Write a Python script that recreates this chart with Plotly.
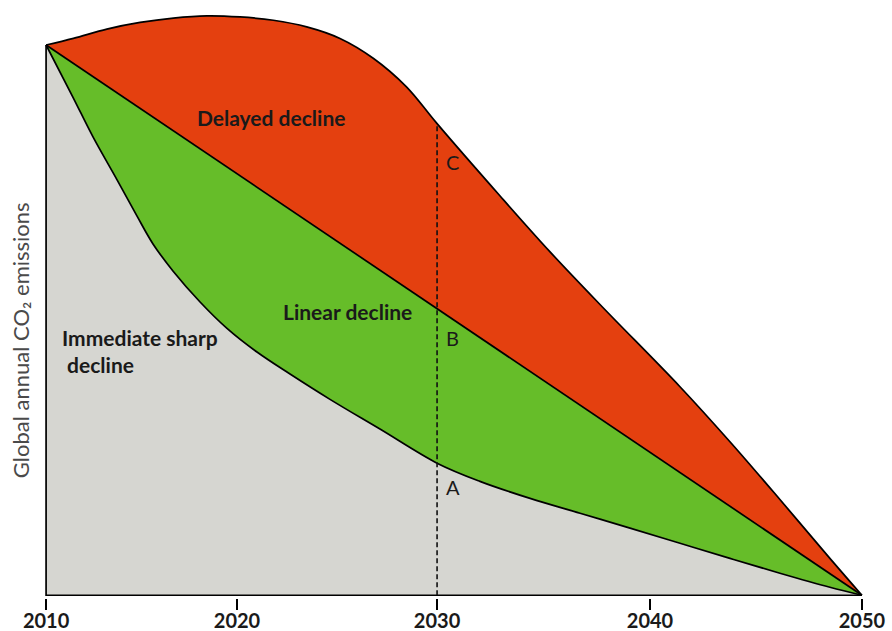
import plotly.graph_objects as go

# ---- data (illustrative emission pathways, index: 2010 level = 100) ----
delayed_years = [2010, 2011.34, 2012.98, 2014.61, 2016.24, 2017.88, 2019.51, 2021.14, 2022.78,
                 2024.41, 2026.04, 2027.67, 2029.15, 2032.25, 2034.71, 2037.3,
                 2041.08, 2043.53, 2045.98, 2048.43, 2050]
delayed_vals = [100, 101.2, 102.9, 104.1, 104.9, 105.3, 105.1, 104.5, 103.3,
                101.2, 97.6, 92.4, 85.8, 72.6, 62.4, 52.3,
                37.9, 27.9, 17.4, 6.7, 0]

linear_years = [2010, 2050]
linear_vals = [100, 0]

sharp_years = [2010, 2011.32, 2012.30, 2013.48, 2014.46, 2015.25, 2016.23, 2017.55, 2018.87,
               2020.34, 2021.96, 2023.92, 2026.37, 2029.17, 2031.27, 2033.73, 2036.18, 2038.63,
               2041.08, 2043.53, 2045.98, 2048.43, 2050]
sharp_vals = [100, 90.5, 83.3, 75.5, 68.9, 63.8, 58.9, 53.3, 48.5,
              44.2, 40.2, 35.6, 30.2, 24.0, 20.7, 17.6, 14.9, 12.2,
              9.45, 6.7, 4.0, 1.45, 0]

marker_year = 2029.17          # dashed reference line ("2030" in the drawing)
marker_top = 85.7
tick_positions = [2010, 2019.36, 2029.17, 2039.61, 2050]
tick_labels = ["2010", "2020", "2030", "2040", "2050"]

RED = "#E4400F"
GREEN = "#66BD29"
GRAY = "#D6D6D1"
EDGE = dict(color="black", width=1.7)

fig = go.Figure()

# gray region: below the sharp-decline curve
fig.add_trace(go.Scatter(
    x=sharp_years, y=sharp_vals, fill="tozeroy", fillcolor=GRAY, mode="lines",
    line=dict(EDGE, shape="spline", smoothing=1.0), hoverinfo="skip", showlegend=False))

# green region: between sharp curve and linear line
fig.add_trace(go.Scatter(
    x=linear_years, y=linear_vals, fill="tonexty", fillcolor=GREEN, mode="lines",
    line=EDGE, hoverinfo="skip", showlegend=False))

# red region: between linear line and delayed curve
fig.add_trace(go.Scatter(
    x=delayed_years, y=delayed_vals, fill="tonexty", fillcolor=RED, mode="lines",
    line=dict(EDGE, shape="spline", smoothing=1.0), hoverinfo="skip", showlegend=False))

# left edge and baseline of the drawing
fig.add_trace(go.Scatter(
    x=[linear_years[0], linear_years[0], linear_years[1]], y=[linear_vals[0], 0, 0],
    mode="lines", line=EDGE, hoverinfo="skip", showlegend=False))

# dashed reference line
fig.add_trace(go.Scatter(
    x=[marker_year, marker_year], y=[0, marker_top], mode="lines",
    line=dict(color="#111111", width=1.6, dash="5px,3px"),
    hoverinfo="skip", showlegend=False))

lbl_font = dict(family="Lato, sans-serif", size=21, color="#1a1a1a")
anns = [
    dict(x=2021.03, y=86.8, text="<b>Delayed decline</b>", xanchor="center", yanchor="middle"),
    dict(x=2024.78, y=51.5, text="<b>Linear decline</b>", xanchor="center", yanchor="middle"),
    dict(x=2010.69, y=44.4, text="<b>Immediate sharp</b><br><b> decline</b>",
         xanchor="left", yanchor="middle", align="left"),
]
for a in anns:
    fig.add_annotation(showarrow=False, font=lbl_font, **a)

letter_font = dict(family="Lato, sans-serif", size=20, color="#1a1a1a")
for txt, yv in [("C", 78.7), ("B", 46.7), ("A", 19.6)]:
    fig.add_annotation(x=2029.95, y=yv, text=txt, showarrow=False, font=letter_font,
                       xanchor="center", yanchor="middle")

fig.add_annotation(xref="paper", yref="paper", x=0, y=0.44, xshift=-22,
                   text="Global annual CO\u2082 emissions", textangle=-90, showarrow=False,
                   font=dict(family="Lato, sans-serif", size=22, color="#4a4a4a"),
                   xanchor="center", yanchor="middle")

fig.update_layout(
    width=892, height=631,
    margin=dict(l=42, r=26, t=12, b=33, autoexpand=False),
    plot_bgcolor="white", paper_bgcolor="white",
    xaxis=dict(range=[2009.8, 2050.2], showgrid=False, zeroline=False, showline=False,
               automargin=False,
               tickmode="array", tickvals=tick_positions, ticktext=tick_labels,
               ticks="outside", ticklen=11, tickwidth=1.5, tickcolor="black",
               ticklabelstandoff=-6,
               tickfont=dict(family="Lato, sans-serif", size=20, color="#1a1a1a", weight="bold")),
    yaxis=dict(range=[-0.5, 106], visible=False, showgrid=False, zeroline=False,
               automargin=False),
)

fig.write_html("out.html", config={"displayModeBar": False},
               post_script="document.body.style.margin='0';document.body.style.overflow='hidden';")
